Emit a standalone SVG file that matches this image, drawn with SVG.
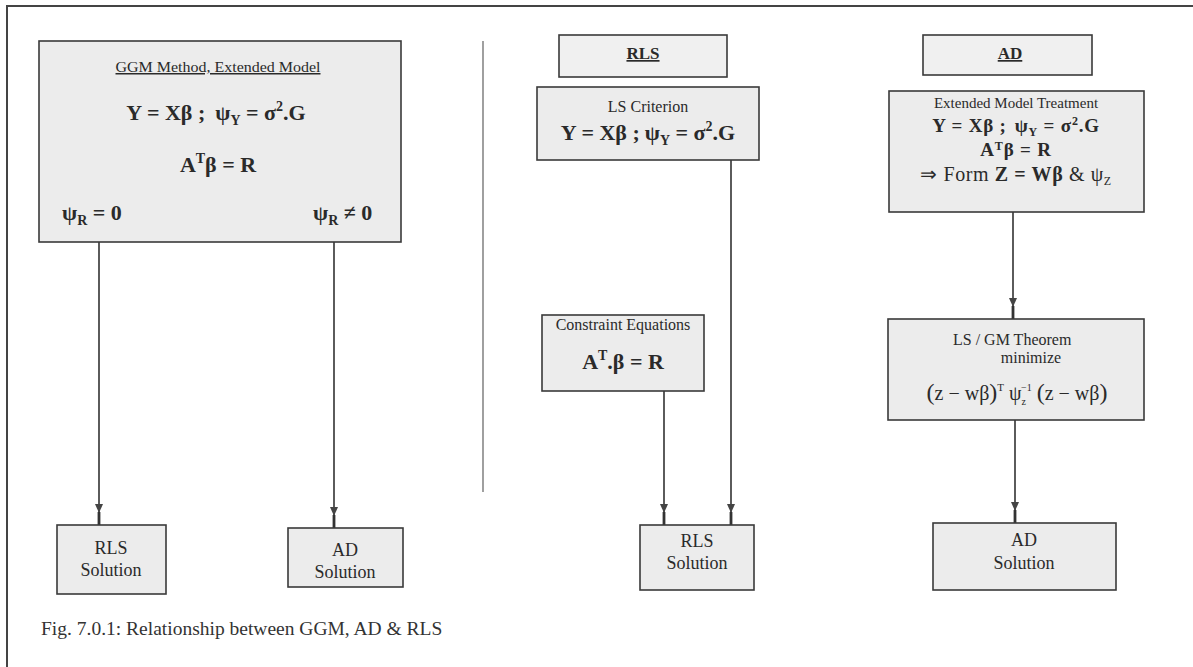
<svg xmlns="http://www.w3.org/2000/svg" width="1193" height="667" viewBox="0 0 1193 667">
  <style>
    .box { fill: #ececec; stroke: #3a3a3a; stroke-width: 1.6; }
    .hdr { fill: #f0f0f0; stroke: #3a3a3a; stroke-width: 1.6; }
    .t { font-family: "Liberation Serif", "Times New Roman", serif; fill: #2a2a2a; }
    .small { font-size: 16px; }
    .lbl { font-size: 18px; }
    .eq { font-size: 22px; font-weight: bold; }
    .eqs { font-size: 19px; font-weight: bold; letter-spacing: 0.8px; }
    .sub { font-size: 14px; }
    .subs { font-size: 12px; }
    .cap { font-size: 19.5px; fill: #333; }
    .conn { stroke: #333; stroke-width: 1.6; fill: none; marker-end: url(#arrow); }
    .frame { stroke: #444; stroke-width: 2; fill: none; }
  </style>
  <defs>
    <!-- downward arrowhead with a short stem reaching the box edge -->
    <marker id="arrow" viewBox="0 0 21 8" refX="21" refY="4" markerWidth="21" markerHeight="8" markerUnits="userSpaceOnUse" orient="auto">
      <path d="M0,0 L9,4 L0,8 Z" fill="#444"/>
      <rect x="8" y="2.6" width="13" height="2.8" fill="#333"/>
    </marker>
  </defs>

  <rect width="1193" height="667" fill="#ffffff"/>

  <!-- page frame and column separator -->
  <path class="frame" d="M6,6 H1193 M7,6 V667"/>
  <line x1="483" y1="41" x2="483" y2="492" stroke="#777" stroke-width="1.4"/>

  <!-- connectors -->
  <g id="connectors">
    <line class="conn" x1="99" y1="242" x2="99" y2="525"/>
    <line class="conn" x1="334" y1="242" x2="334" y2="528"/>
    <line class="conn" x1="731" y1="160" x2="731" y2="525"/>
    <line class="conn" x1="664" y1="391" x2="664" y2="525"/>
    <line class="conn" x1="1013" y1="212" x2="1013" y2="319"/>
    <line class="conn" x1="1015" y1="420" x2="1015" y2="523"/>
  </g>

  <!-- left column: GGM -->
  <g id="ggm">
    <rect class="box" x="39" y="41" width="362" height="201"/>
    <text class="t" x="218" y="72" font-size="15" text-anchor="middle" text-decoration="underline" textLength="205" lengthAdjust="spacingAndGlyphs">GGM Method, Extended Model</text>
    <text class="t eq" x="216" y="120" text-anchor="middle">Y = Xβ ;<tspan dx="10">ψ</tspan><tspan class="sub" dy="5">Y</tspan><tspan dy="-5"> = σ</tspan><tspan class="sub" dy="-9">2</tspan><tspan dy="9">.G</tspan></text>
    <text class="t eq" x="218" y="172" text-anchor="middle">A<tspan class="sub" dy="-9">T</tspan><tspan dy="9">β = R</tspan></text>
    <text class="t eq" x="62" y="220">ψ<tspan class="sub" dy="5">R</tspan><tspan dy="-5"> = 0</tspan></text>
    <text class="t eq" x="313" y="220">ψ<tspan class="sub" dy="5">R</tspan><tspan dy="-5"> ≠ 0</tspan></text>
  </g>
  <g id="ggm-rls-solution">
    <rect class="box" x="57" y="525" width="109" height="69"/>
    <text class="t lbl" x="111" y="554" text-anchor="middle">RLS</text>
    <text class="t lbl" x="111" y="576" text-anchor="middle">Solution</text>
  </g>
  <g id="ggm-ad-solution">
    <rect class="box" x="288" y="528" width="115" height="59"/>
    <text class="t lbl" x="345" y="556" text-anchor="middle">AD</text>
    <text class="t lbl" x="345" y="578" text-anchor="middle">Solution</text>
  </g>

  <!-- middle column: RLS -->
  <g id="rls-header">
    <rect class="hdr" x="559" y="35" width="168" height="42"/>
    <text class="t" x="643" y="59" text-anchor="middle" font-size="17" font-weight="bold" text-decoration="underline">RLS</text>
  </g>
  <g id="ls-criterion">
    <rect class="box" x="537" y="87" width="222" height="73"/>
    <text class="t small" x="648" y="112" text-anchor="middle">LS Criterion</text>
    <text class="t eq" x="648" y="140" text-anchor="middle">Y = Xβ ;<tspan dx="5">ψ</tspan><tspan class="sub" dy="5">Y</tspan><tspan dy="-5"> = σ</tspan><tspan class="sub" dy="-9">2</tspan><tspan dy="9">.G</tspan></text>
  </g>
  <g id="constraint-equations">
    <rect class="box" x="542" y="315" width="162" height="76"/>
    <text class="t small" x="623" y="330" text-anchor="middle">Constraint Equations</text>
    <text class="t eq" x="623" y="369" text-anchor="middle">A<tspan class="sub" dy="-9">T</tspan><tspan dy="9">.β = R</tspan></text>
  </g>
  <g id="rls-solution">
    <rect class="box" x="640" y="525" width="114" height="65"/>
    <text class="t lbl" x="697" y="547" text-anchor="middle">RLS</text>
    <text class="t lbl" x="697" y="569" text-anchor="middle">Solution</text>
  </g>

  <!-- right column: AD -->
  <g id="ad-header">
    <rect class="hdr" x="923" y="35" width="169" height="40"/>
    <text class="t" x="1010" y="59" text-anchor="middle" font-size="17" font-weight="bold" text-decoration="underline">AD</text>
  </g>
  <g id="extended-model-treatment">
    <rect class="box" x="889" y="91" width="255" height="121"/>
    <text class="t" x="1016" y="108" font-size="15" text-anchor="middle">Extended Model Treatment</text>
    <text class="t eqs" x="1016" y="132" text-anchor="middle">Y = Xβ ;<tspan dx="8">ψ</tspan><tspan class="subs" dy="4">Y</tspan><tspan dy="-4"> = σ</tspan><tspan class="subs" dy="-7">2</tspan><tspan dy="7">.G</tspan></text>
    <text class="t eqs" x="1016" y="156" text-anchor="middle">A<tspan class="subs" dy="-6">T</tspan><tspan dy="6">β = R</tspan></text>
    <text class="t" x="1016" y="181" text-anchor="middle" font-size="20" letter-spacing="0.6">⇒ Form <tspan font-weight="bold">Z = Wβ</tspan> &amp; ψ<tspan class="subs" dy="4">Z</tspan></text>
  </g>
  <g id="ls-gm-theorem">
    <rect class="box" x="888" y="319" width="256" height="101"/>
    <text class="t small" x="953" y="345">LS / GM Theorem</text>
    <text class="t small" x="1031" y="363" text-anchor="middle">minimize</text>
    <text class="t" x="1017" y="400" text-anchor="middle" font-size="20"><tspan font-size="24">(</tspan>z − wβ<tspan font-size="24">)</tspan><tspan font-size="11" dy="-9">T</tspan><tspan dy="9"> ψ</tspan><tspan font-size="10" dy="5">z</tspan><tspan font-size="10" dx="-5" dy="-14">−1</tspan><tspan dy="9"> </tspan><tspan font-size="24">(</tspan>z − wβ<tspan font-size="24">)</tspan></text>
  </g>
  <g id="ad-solution">
    <rect class="box" x="933" y="523" width="183" height="67"/>
    <text class="t lbl" x="1024" y="546" text-anchor="middle">AD</text>
    <text class="t lbl" x="1024" y="569" text-anchor="middle">Solution</text>
  </g>

  <text class="t cap" x="41" y="635">Fig. 7.0.1: Relationship between GGM, AD &amp; RLS</text>
</svg>
